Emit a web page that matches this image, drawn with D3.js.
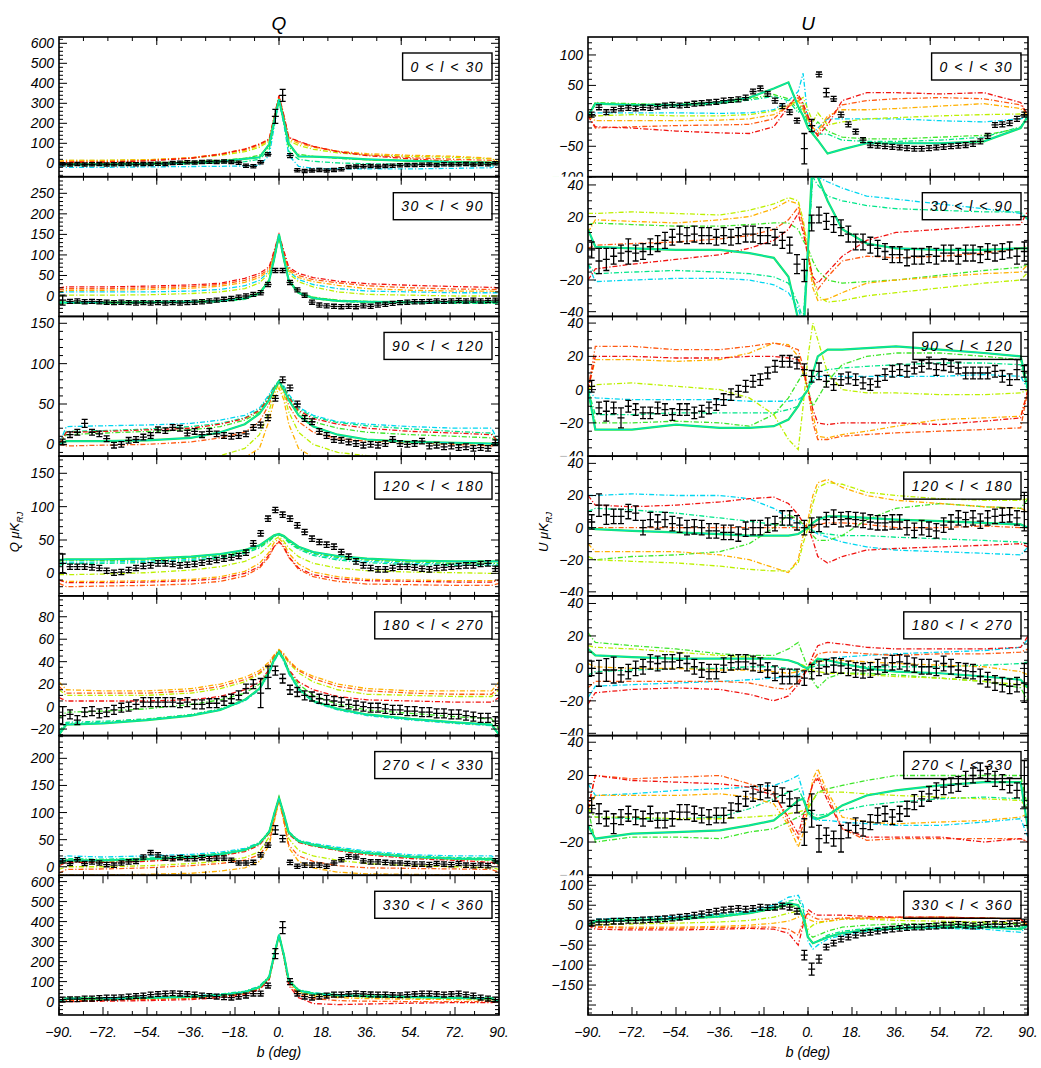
<!DOCTYPE html>
<html><head><meta charset="utf-8">
<script src="https://cdn.jsdelivr.net/npm/d3@7"></script>
<style>
body{margin:0;background:#fff;}
text{font-family:"Liberation Sans",Arial,sans-serif;font-style:italic;fill:#000;}
</style></head><body>
<svg id="fig" width="1041" height="1068"></svg>
<script>
// Longitude bands, one row each
const bandLabels = ["0 < l < 30","30 < l < 90","90 < l < 120","120 < l < 180","180 < l < 270","270 < l < 330","330 < l < 360"];
// Latitude binning of the measured profiles (3 degree bins)
const binStart = -88.5, binStep = 3;
// Latitudes at which the model profiles are tabulated
const knotB = [-90,-87,-72,-54,-36,-24,-14,-8,-4,-2,0,2,4,8,14,24,36,54,72,87,90];
const bottomTicks = [-90,-72,-54,-36,-18,0,18,36,54,72,90];

// Axis ranges, tick steps and lowest labelled value
const qDomain = [[-67,631.5],[-49.7,290.4],[-14.6,158.5],[-33.7,175.7],[-25.8,98.6],[-15.7,242],[-67,631.5]];
const uDomain = [[-100,129.5],[-43,45.2],[-40,44],[-42.5,44.5],[-41.4,44.7],[-40,44],[-225,125]];
const qStep = [100,50,50,50,20,50,100], qMinor = [20,10,10,10,5,10,20];
const uStep = [50,20,20,20,20,20,50], uMinor = [10,5,5,5,5,5,10];
const qLabelLow = [-1e9,-1e9,-1e9,-1e9,-1e9,-1e9,-1e9];
const uLabelLow = [-1e9,-1e9,-1e9,-1e9,-1e9,-1e9,-150];

// Measured Q profiles (uK_RJ)
const qObs = [
 [-5,-6,-4,-6,-5,-4,-6,-5,-3,-4,-5,-3,-4,-2,-3,2,3,5,4,6,8,7,9,6,3,-12,-15,5,45,235,340,38,-35,-38,-36,-34,-36,-33,-30,-18,-16,-15,-14,-16,-13,-12,-10,-8,-9,-7,-6,-8,-5,-6,-5,-4,-6,-4,-5,0],
 [-10,-13,-12,-14,-13,-14,-15,-16,-15,-16,-17,-16,-17,-16,-17,-16,-17,-16,-15,-14,-12,-10,-8,-6,-3,0,4,8,28,62,62,33,15,2,-15,-22,-24,-25,-26,-25,-26,-24,-25,-22,-20,-18,-16,-15,-14,-14,-13,-12,-13,-12,-11,-12,-10,-12,-11,-10],
 [3,12,15,26,15,13,7,-1,0,5,6,9,11,18,17,21,20,14,16,12,16,13,11,10,11,13,21,24,33,57,80,70,50,32,28,16,11,6,5,3,1,-1,0,-1,1,6,1,0,1,4,-2,-1,-3,-2,-4,-3,-5,-4,-5,2],
 [15,10,10,10,9,8,4,1,2,5,8,11,12,15,15,14,12,13,14,16,18,20,22,24,26,31,45,60,82,95,88,82,72,62,52,47,43,40,32,25,18,12,8,6,6,8,10,10,9,7,6,8,9,10,11,12,12,14,15,7],
 [-8,-7,-12,-5,-4,-6,-5,-3,-1,0,2,4,4,4,4,4,3,4,2,2,3,3,5,7,10,16,20,12,26,32,25,15,13,10,9,7,6,5,4,2,1,0,-1,-1,-2,-3,-3,-4,-4,-5,-5,-6,-6,-7,-7,-8,-9,-10,-10,-13],
 [11,6,13,6,9,7,4,3,7,9,10,18,26,22,16,15,17,15,15,17,15,16,16,12,7,7,8,22,40,68,52,8,1,3,3,3,1,7,13,19,18,11,9,9,8,7,7,6,5,5,4,6,5,4,6,3,2,3,2,11],
 [10,12,12,15,15,18,20,20,22,25,28,30,35,38,40,42,40,38,35,30,28,25,22,20,25,30,40,40,80,240,370,100,40,25,20,25,30,35,35,38,40,38,36,35,35,33,32,35,38,40,40,38,35,38,40,35,30,20,15,10]
];
const qErrBase = [8,5,3.5,4,4,4,12];
const qErrWide = [{0:8,29:35,30:30,31:10},{0:12},{3:5},{0:14},{0:8,27:13,28:10,29:4},{29:8,30:6},{29:25,30:30,31:15}];

// Measured U profiles (uK_RJ)
const uObs = [
 [2,14,6,10,12,13,12,14,13,15,17,18,17,18,20,21,22,23,25,26,27,30,40,45,36,25,16,6,-8,-54,-16,68,38,28,2,-14,-26,-40,-48,-49,-50,-51,-52,-53,-54,-54,-53,-52,-51,-50,-49,-48,-46,-42,-33,-15,-14,-12,-5,2],
 [-1,-8,-7,-5,-3,-2,-3,-2,1,3,5,7,9,8,9,8,8,7,8,7,8,9,9,8,8,7,5,2,-10,-14,16,21,17,15,13,9,4,4,2,0,-2,-4,-4,-6,-5,-5,-4,-5,-3,-3,-5,-3,-3,-4,-2,-3,-2,-1,-5,-2],
 [2,-11,-13,-11,-17,-10,-12,-14,-14,-11,-12,-15,-12,-12,-14,-13,-11,-9,-6,-3,-1,2,5,6,10,14,17,17,16,12,8,11,5,3,6,7,6,4,3,5,9,11,12,11,13,14,16,12,15,14,13,10,10,10,10,11,8,6,12,11],
 [3.5,14,8,7,7,10,9,0,5,3.5,5,2.5,1.5,0,0.5,0,-2,-2,-3,-3,-4,-1,0,0,1.5,2.5,6,6,3,0,1.5,2,5,6.5,5,5.5,5,4.5,3.5,3,3,3.5,3.5,0,-1.7,0,-1,-2,1.5,3.5,6,5,6,4,6,7,7.7,8,6,10],
 [0,-3,-1,-1,-4,-2,0,1,4,3,4,4,5,3,1,-1,-2,-2,2,3.5,4,4,3,2,-1,-3,-5,-5,-5,-6,-2,0,1,2,1.5,0,-1,-1.5,-1,1,2,3.5,4,3,2,1,1,0,3,1,-1,-1.5,-2,-5,-7,-9,-10,-11,-10,-9],
 [2,-3,-6,-9,-5,-3,-5,-6,-3,-7,-7,-6,-2,-2,-3,-4,-5,-4,-4,-1,3,6,9,10,11,9,8,6,2,-14,-1,-18,-16,-18,-18,-13,-10,-12,-8,-4,-3,-5,-3,0,4,6,9,11,13,14,15,18,20,23,21,18,16,14,11,15],
 [5,8,8,10,10,12,12,13,14,15,16,18,20,22,25,28,32,35,38,40,42,40,42,45,44,45,48,45,35,-75,-110,-85,-55,-45,-35,-30,-25,-20,-18,-15,-12,-10,-8,-6,-5,-5,-3,-2,0,0,2,0,-2,0,2,3,2,4,5,8]
];
const uErrBase = [4,5,3.5,4.5,4.5,4.5,7];
const uErrWide = [{29:25,30:10,32:7},{1:8,2:7,5:8,28:6,29:7,59:6},{2:6,4:6,31:5,58:6},{1:7,2:6,59:12},{1:8,2:7,3:8,59:12},{1:6,3:6,29:8,30:10,31:8,34:8,59:14},{29:12,30:15,31:10}];

// Model Q profiles, one row per band, tabulated at knotB
const qRed = [
 [0,5,5,12,25,45,70,95,120,230,340,240,130,110,85,58,38,22,10,5,0],
 [20,22,22,24,27,31,43,55,71,110,150,110,70,55,45,36,30,26,23,21,20],
 [0,15,16,18,20,25,32,42,58,70,78,70,58,42,32,25,20,16,14,12,2],
 [-10,-14,-14,-13,-11,-8,0,10,28,40,48,40,25,8,-2,-8,-11,-12,-13,-13,-10],
 [8,5,5,5,6,9,15,22,33,42,50,42,33,22,15,9,6,5,4,4,8],
 [2,8,8,10,15,20,28,40,62,95,128,95,60,45,38,30,22,15,12,8,2],
 [0,0,2,5,10,20,35,60,110,220,330,220,80,20,-10,-15,-12,-8,-5,-5,0]];
const qOrange = [
 [5,8,8,14,27,47,72,97,122,230,335,235,128,108,85,60,42,28,20,15,5],
 [15,18,18,20,23,28,38,50,66,105,148,105,66,50,40,32,25,20,17,16,15],
 [0,-2,-1,0,3,8,15,28,50,66,77,66,48,28,15,7,4,2,0,-2,2],
 [-15,-20,-19,-18,-16,-12,-4,8,25,40,47,38,24,6,-5,-12,-16,-17,-18,-18,-15],
 [18,12,12,12,14,18,24,30,38,45,50,46,40,32,25,18,14,12,11,11,18],
 [-12,-5,-4,-2,2,6,12,22,45,85,125,85,40,20,10,2,-2,-3,-4,-5,-10],
 [0,5,8,10,15,25,40,65,115,225,330,225,90,35,15,5,2,0,0,0,0]];
const qAmber = [
 [10,15,14,18,28,45,65,88,115,225,330,230,120,100,80,60,48,40,35,25,5],
 [10,14,14,16,19,24,33,45,62,100,146,100,62,45,35,26,18,14,12,12,10],
 [-20,-20,-20,-20,-20,-20,-16,-5,30,55,70,55,25,-5,-16,-20,-20,-20,-20,-20,-20],
 [-10,-12,-12,-11,-9,-5,3,15,32,46,52,45,30,14,2,-5,-9,-10,-11,-11,-10],
 [22,15,14,14,16,20,26,32,40,46,51,47,41,33,27,20,16,14,14,14,22],
 [-15,-15,-15,-14,-12,-8,-2,10,40,82,122,82,35,10,-2,-10,-13,-14,-15,-15,-15],
 [0,8,10,12,18,28,42,68,118,228,330,228,95,45,28,20,15,12,10,8,0]];
const qLime = [
 [10,15,15,18,26,40,58,80,110,220,325,225,112,90,70,52,42,35,30,22,5],
 [0,2,2,3,6,10,18,32,55,95,145,95,55,35,22,10,4,2,0,0,0],
 [-18,-18,-18,-18,-17,-14,-5,12,42,62,76,62,40,15,0,-10,-14,-16,-18,-18,-18],
 [-2,-2,-1,1,5,10,18,28,42,50,55,48,38,25,15,8,4,2,1,0,0],
 [15,10,10,10,12,16,22,29,37,44,49,45,39,30,22,15,11,10,9,9,15],
 [-5,0,0,2,6,10,17,28,55,90,122,90,52,30,20,12,6,2,0,-2,-5],
 [0,10,12,15,20,30,45,70,120,230,332,230,100,50,35,28,22,18,15,12,0]];
const qGreen = [
 [0,0,0,3,8,15,25,40,80,205,320,215,80,45,35,25,18,12,8,5,0],
 [-15,-15,-15,-14,-13,-11,-5,8,40,90,145,90,40,10,-3,-10,-13,-15,-15,-15,-15],
 [0,12,14,16,18,22,30,40,56,68,78,68,56,40,28,20,15,12,10,8,2],
 [18,20,19,20,23,27,33,40,50,56,58,55,48,38,30,24,20,17,15,15,15],
 [-10,-5,-4,-2,2,6,12,20,32,42,48,42,32,20,10,2,-3,-6,-9,-11,-20],
 [5,10,10,12,17,22,30,42,63,96,126,96,62,47,40,32,24,17,14,12,5],
 [0,15,16,18,24,33,48,72,122,232,332,232,105,55,40,32,26,22,18,15,0]];
const qSpring = [
 [-5,-8,-8,-5,-2,2,8,20,70,195,318,205,60,20,10,2,-2,-5,-8,-8,0],
 [-18,-18,-18,-17,-16,-14,-8,5,35,88,145,88,35,6,-6,-13,-16,-17,-18,-18,-18],
 [0,16,17,19,22,26,33,43,60,71,78,71,60,44,34,27,23,19,16,14,2],
 [12,15,15,16,19,23,30,38,48,55,58,54,46,36,27,20,16,13,12,12,12],
 [-22,-14,-13,-11,-7,-2,6,16,30,41,48,41,30,16,5,-2,-7,-11,-14,-16,-25],
 [8,15,14,16,20,25,32,44,65,98,125,98,64,48,42,34,27,20,17,16,8],
 [0,18,18,20,26,35,50,75,125,235,335,235,108,58,42,34,28,24,20,18,0]];
const qCyan = [
 [-10,-20,-20,-18,-16,-15,-13,-10,40,180,310,195,40,-15,-25,-28,-28,-28,-25,-22,0],
 [8,10,10,10,12,16,25,38,60,100,150,100,60,40,28,18,12,10,8,8,8],
 [0,22,23,24,26,30,36,45,62,72,79,72,62,46,36,28,25,22,20,20,2],
 [15,17,17,18,21,26,32,40,50,56,58,55,47,37,29,22,18,15,14,14,14],
 [-24,-15,-14,-12,-8,-3,5,15,29,40,48,40,29,15,4,-3,-8,-12,-15,-17,-25],
 [10,20,18,20,23,27,34,45,66,98,124,98,65,49,43,36,29,22,20,20,10],
 [0,20,20,22,28,38,52,78,128,238,335,238,110,60,44,36,30,26,22,20,0]];
const qSolid = [
 [0,-5,-5,-3,2,10,22,30,95,210,320,210,100,35,33,28,20,12,6,3,0],
 [-15,-16,-16,-15,-14,-12,-6,6,38,90,150,90,38,8,-5,-12,-14,-15,-15,-15,-15],
 [0,4,4,5,8,15,25,38,55,68,78,68,55,36,22,12,6,3,2,1,0],
 [20,21,21,22,25,29,35,42,52,57,59,56,50,40,32,26,22,19,18,18,18],
 [-25,-16,-15,-12,-8,-3,6,16,31,42,49,42,31,16,5,-2,-7,-11,-14,-16,-25],
 [5,12,12,14,18,23,31,43,64,97,127,97,63,47,40,32,25,18,15,14,5],
 [0,15,15,18,24,33,48,72,122,232,333,232,105,55,40,32,26,22,18,15,0]];

// Model U profiles
const uRed = [
 [0,-18,-20,-25,-28,-29,-18,15,35,20,0,-20,-33,-15,25,38,38,36,38,22,0],
 [-20,-13,-10,-7,-4,0,5,12,22,10,-5,-18,-22,-15,-5,5,10,12,14,15,24],
 [0,20,20,19,19,20,20,19,18,12,0,-12,-20,-21,-20,-20,-20,-21,-19,-17,0],
 [20,14,13,14,16,18,19,15,8,3,0,-8,-18,-22,-18,-14,-13,-12,-11,-10,-12],
 [-22,-15,-13,-12,-13,-16,-20,-17,-10,-5,0,8,14,16,15,13,12,12,12,13,20],
 [0,20,17,16,15,13,8,-5,-15,-5,5,15,18,5,-12,-17,-17,-17,-20,-18,-20],
 [0,-10,-12,-12,-10,-8,-10,-20,-50,0,40,30,25,25,25,22,20,20,18,15,0]];
const uOrange = [
 [0,-20,-18,-16,-15,-14,-5,18,30,15,-5,-25,-30,-5,18,25,28,30,28,18,0],
 [0,2,3,4,6,8,12,18,26,15,-5,-20,-26,-18,-8,-5,-6,-5,-3,0,2],
 [0,26,26,24,24,26,28,26,24,14,0,-20,-30,-30,-28,-27,-26,-25,-24,-23,0],
 [0,0,0,0,0,0,0,0,0,0,0,0,2,3,3,2,0,0,1,0,0],
 [-12,-8,-8,-8,-8,-9,-12,-13,-8,-4,0,5,9,10,10,9,8,9,9,10,12],
 [0,20,18,19,20,15,10,-8,-18,-10,5,15,20,8,-12,-19,-18,-18,-18,-18,-20],
 [0,-5,-8,-8,-6,-5,-5,-10,-25,10,30,20,15,15,18,18,20,20,18,15,0]];
const uAmber = [
 [0,-8,-8,-8,-7,-5,2,15,25,10,-5,-20,-25,0,10,10,12,16,20,12,0],
 [10,18,17,16,18,20,25,30,28,15,-5,-25,-33,-32,-28,-22,-20,-18,-16,-15,-10],
 [0,18,18,17,18,22,28,27,20,10,0,-15,-28,-29,-27,-25,-22,-18,-17,-16,0],
 [-10,-15,-15,-15,-17,-20,-25,-28,-20,-5,5,20,28,30,25,20,17,15,13,12,10],
 [3,1,0,0,-1,-1,-2,-3,-2,-1,0,2,4,5,5,4,3,2,1,-2,-4],
 [0,8,8,8,9,7,3,-10,-23,-15,0,18,24,10,-5,-8,-9,-8,-7,-5,-3],
 [0,-3,-5,-5,-3,0,5,10,20,25,15,10,8,10,15,18,18,20,18,15,0]];
const uLime = [
 [0,0,2,0,0,2,8,18,25,30,10,-10,5,-15,-10,-5,-3,0,2,3,0],
 [22,22,23,22,21,24,28,32,30,18,0,-20,-30,-34,-33,-30,-28,-25,-22,-20,-15],
 [0,3,4,2,0,-5,-15,-30,-36,-10,20,40,30,10,0,-2,-2,-3,-3,-2,0],
 [-18,-20,-21,-22,-24,-26,-27,-27,-22,-10,0,15,25,28,27,22,20,18,17,17,18],
 [14,13,12,10,8,7,6,5,3,2,0,-1,-2,-3,-3,-4,-5,-6,-8,-10,-12],
 [0,-5,-5,-6,-6,-5,-4,-3,-2,-1,0,5,10,10,10,9,8,7,6,5,0],
 [0,2,3,5,8,12,20,30,35,20,-10,0,5,10,15,15,12,10,8,5,0]];
const uGreen = [
 [0,22,20,18,22,28,35,28,10,20,-15,-20,-10,-25,-35,-38,-38,-35,-32,-20,0],
 [15,16,15,14,14,15,16,16,12,5,0,-8,-14,-20,-22,-21,-20,-17,-14,-12,-10],
 [0,-20,-20,-19,-20,-22,-15,-5,5,10,0,-10,-5,5,15,20,22,22,20,18,0],
 [-18,-20,-18,-17,-15,-10,0,8,5,2,0,-5,-8,-8,-5,5,12,15,13,12,18],
 [22,16,14,12,9,8,8,12,16,8,0,-8,-12,-6,-3,-3,-4,-6,-8,-12,-20],
 [0,-20,-17,-17,-18,-14,-12,-8,-5,-3,0,5,10,12,14,17,20,20,20,20,0],
 [0,10,12,15,20,30,40,50,45,20,-20,-30,-25,-15,-5,0,3,3,3,2,0]];
const uSpring = [
 [0,20,18,16,20,26,32,25,5,15,-20,-25,-30,-30,-40,-42,-42,-40,-35,-18,0],
 [-10,-16,-15,-14,-15,-16,-18,-22,-35,-45,0,45,40,33,30,27,25,24,23,23,18],
 [0,-15,-15,-14,-14,-14,-14,-12,-10,-5,0,5,10,12,13,14,15,16,16,15,0],
 [10,12,11,9,6,4,2,1,0,0,0,-2,-3,-4,-5,-5,-6,-7,-8,-9,-10],
 [-4,-2,-1,0,0,1,1,0,-2,-1,0,1,2,2,2,1,1,1,2,3,4],
 [0,-5,-6,-6,-5,0,6,10,12,6,0,-3,-4,-3,-1,2,4,6,7,6,0],
 [0,12,15,18,25,32,45,60,65,40,-30,-45,-40,-25,-15,-8,-3,-2,-2,-5,0]];
const uCyan = [
 [0,5,5,5,4,5,10,25,40,70,-5,-30,-20,-5,-5,-5,-5,-8,-10,-5,0],
 [-10,-21,-20,-19,-19,-20,-23,-28,-38,-48,0,48,45,42,38,33,31,28,25,22,18],
 [0,-5,-6,-6,-6,-7,-7,-7,-6,-4,0,5,8,8,8,8,8,8,9,8,0],
 [20,20,21,20,20,18,12,6,3,1,0,-2,-4,-6,-9,-12,-14,-15,-16,-17,-12],
 [-18,-11,-10,-9,-8,-7,-6,-5,-4,-2,0,2,4,6,7,8,9,10,11,13,18],
 [15,8,9,11,12,13,14,17,20,10,-4,-6,-7,-7,-8,-9,-10,-10,-8,-6,-17],
 [0,15,18,22,28,35,50,70,75,50,-40,-60,-50,-35,-25,-15,-10,-8,-10,-18,0]];
const uSolid = [
 [0,20,18,18,22,30,45,55,15,0,-20,-30,-40,-62,-55,-45,-45,-45,-42,-20,0],
 [12,1,0,-1,-1,-3,-6,-18,-45,-60,0,60,45,30,12,3,0,-1,-1,0,0],
 [0,-24,-24,-21,-23,-23,-22,-18,-10,-4,0,10,20,24,24,25,26,24,22,20,0],
 [0,-1,-2,-3,-4,-5,-5,-5,-4,-2,0,3,5,7,7,6,5,4,3,2,0],
 [12,8,7,6,6,6,6,5,3,1,0,3,6,5,3,0,-2,-3,-5,-7,-12],
 [-10,-18,-15,-14,-13,-10,-7,0,5,6,-2,-5,-6,-4,2,8,11,14,16,16,-12],
 [0,10,12,15,22,30,42,55,50,20,-30,-45,-40,-30,-20,-12,-8,-5,-5,-10,0]];

// Dash-dot model line colours (rainbow order)
const dashStyles = [
 {key:"cyan",   color:"#00d6f0"},
 {key:"spring", color:"#00e68a"},
 {key:"green",  color:"#3ee62a"},
 {key:"lime",   color:"#bdf000"},
 {key:"amber",  color:"#ffb000"},
 {key:"orange", color:"#ff5a12"},
 {key:"red",    color:"#f01410"}
];

const W = 1041, H = 1068;
const svg = d3.select("#fig");
svg.append("rect").attr("width", W).attr("height", H).attr("fill", "#fff");
const defs = svg.append("defs");

const top0 = 37, bot0 = 1015, nRows = 7, rowH = (bot0 - top0) / nRows;
const fmt = v => (v < 0 ? "\u2212" + Math.abs(v) : String(v));

const columns = [
 {name:"Q", x0:59, x1:499, obs:qObs, errBase:qErrBase, errWide:qErrWide, domain:qDomain, step:qStep, minor:qMinor, labelLow:qLabelLow,
  models:{red:qRed, orange:qOrange, amber:qAmber, lime:qLime, green:qGreen, spring:qSpring, cyan:qCyan}, solid:qSolid},
 {name:"U", x0:588, x1:1028, obs:uObs, errBase:uErrBase, errWide:uErrWide, domain:uDomain, step:uStep, minor:uMinor, labelLow:uLabelLow,
  models:{red:uRed, orange:uOrange, amber:uAmber, lime:uLime, green:uGreen, spring:uSpring, cyan:uCyan}, solid:uSolid}
];

columns.forEach((col, c) => {
  const x = d3.scaleLinear().domain([-90, 90]).range([col.x0, col.x1]);
  for (let r = 0; r < nRows; r++) {
    const yt = top0 + r * rowH, yb = yt + rowH;
    const [lo, hi] = col.domain[r];
    const y = d3.scaleLinear().domain([lo, hi]).range([yb, yt]);
    const g = svg.append("g");

    const clipId = `plot-${c}-${r}`;
    defs.append("clipPath").attr("id", clipId).append("rect")
      .attr("x", col.x0).attr("y", yt).attr("width", col.x1 - col.x0).attr("height", rowH);
    const plot = g.append("g").attr("clip-path", `url(#${clipId})`);

    const line = d3.line().x((d, i) => x(knotB[i])).y(d => y(d));

    // model curves
    dashStyles.forEach(s => {
      plot.append("path").attr("d", line(col.models[s.key][r]))
        .attr("fill", "none").attr("stroke", s.color).attr("stroke-width", 1.3)
        .attr("stroke-dasharray", "5,2,1.2,2");
    });
    plot.append("path").attr("d", line(col.solid[r]))
      .attr("fill", "none").attr("stroke", "#1ee650").attr("stroke-width", 2.2);
    plot.append("path").attr("d", line(col.solid[r]))
      .attr("fill", "none").attr("stroke", "#00dcc8").attr("stroke-width", 1);

    // measured points with error bars
    const p = d3.path();
    col.obs[r].forEach((v, i) => {
      const b = binStart + i * binStep;
      const e = (col.errWide[r][i] !== undefined) ? col.errWide[r][i] : col.errBase[r];
      const px = x(b), pt = y(v + e), pb = y(v - e), py = y(v);
      p.moveTo(px, pt); p.lineTo(px, pb);
      p.moveTo(px - 3, pt); p.lineTo(px + 3, pt);
      p.moveTo(px - 3, pb); p.lineTo(px + 3, pb);
      p.moveTo(px - 3.5, py); p.lineTo(px + 3.5, py);
    });
    plot.append("path").attr("d", p.toString()).attr("fill", "none")
      .attr("stroke", "#000").attr("stroke-width", 1.3);

    // frame
    g.append("rect").attr("x", col.x0).attr("y", yt).attr("width", col.x1 - col.x0).attr("height", rowH)
      .attr("fill", "none").attr("stroke", "#000").attr("stroke-width", 1.6);

    // ticks
    const tk = d3.path();
    const st = col.step[r], mn = col.minor[r];
    const majors = d3.range(Math.ceil(lo / st) * st, hi + 1e-9, st);
    const minors = d3.range(Math.ceil(lo / mn) * mn, hi + 1e-9, mn)
      .filter(v => Math.abs(v / st - Math.round(v / st)) > 1e-6);
    majors.forEach(v => { const yy = y(v);
      tk.moveTo(col.x0, yy); tk.lineTo(col.x0 + 8, yy);
      tk.moveTo(col.x1, yy); tk.lineTo(col.x1 - 8, yy); });
    minors.forEach(v => { const yy = y(v);
      tk.moveTo(col.x0, yy); tk.lineTo(col.x0 + 4, yy);
      tk.moveTo(col.x1, yy); tk.lineTo(col.x1 - 4, yy); });
    const xMaj = r === nRows - 1 ? bottomTicks : [-50, 0, 50];
    d3.range(-80, 90, 10).forEach(v => { const xx = x(v);
      tk.moveTo(xx, yb); tk.lineTo(xx, yb - 4);
      tk.moveTo(xx, yt); tk.lineTo(xx, yt + 4); });
    xMaj.forEach(v => { const xx = x(v);
      tk.moveTo(xx, yb); tk.lineTo(xx, yb - 8);
      tk.moveTo(xx, yt); tk.lineTo(xx, yt + 8); });
    g.append("path").attr("d", tk.toString()).attr("stroke", "#000").attr("stroke-width", 1).attr("fill", "none");

    // y tick labels (clipped at the row's lower edge)
    const lblId = `lbl-${c}-${r}`;
    defs.append("clipPath").attr("id", lblId).append("rect")
      .attr("x", col.x0 - 58).attr("y", yt - 10).attr("width", 56).attr("height", rowH + 10);
    const lg = g.append("g").attr("clip-path", `url(#${lblId})`);
    majors.filter(v => v >= col.labelLow[r]).forEach(v => {
      lg.append("text").attr("x", col.x0 - 5).attr("y", y(v) + 5)
        .attr("text-anchor", "end").attr("font-size", 14).text(fmt(v));
    });

    // band label box (outline only, curves show through)
    const box = g.append("g");
    const boxRect = box.append("rect").attr("fill", "none").attr("stroke", "#000").attr("stroke-width", 1.4);
    const tx = box.append("text").attr("font-size", 14).attr("letter-spacing", 1.5)
      .attr("text-anchor", "middle").text(bandLabels[r]);
    const tw = tx.node().getComputedTextLength();
    const bw = tw + 16, bh = 27, bx = col.x1 - 7 - bw, by = yt + 16;
    boxRect.attr("x", bx).attr("y", by).attr("width", bw).attr("height", bh);
    tx.attr("x", bx + bw / 2).attr("y", by + bh / 2 + 5);
  }

  // bottom axis labels
  bottomTicks.forEach(v => {
    svg.append("text").attr("x", x(v)).attr("y", bot0 + 22).attr("text-anchor", "middle")
      .attr("font-size", 14).text(fmt(v) + ".");
  });
  svg.append("text").attr("x", (col.x0 + col.x1) / 2).attr("y", bot0 + 42).attr("text-anchor", "middle")
    .attr("font-size", 14).text("b (deg)");
  // column title
  svg.append("text").attr("x", (col.x0 + col.x1) / 2).attr("y", 30).attr("text-anchor", "middle")
    .attr("font-size", 19).text(col.name);
  // vertical axis title
  const at = svg.append("text").attr("transform", `translate(${col.x0 - 40},532) rotate(-90)`)
    .attr("text-anchor", "middle").attr("font-size", 13);
  at.append("tspan").text(col.name + "  \u03bcK");
  at.append("tspan").attr("font-size", 9).attr("dy", 4).text("RJ");
});
</script></body></html>
